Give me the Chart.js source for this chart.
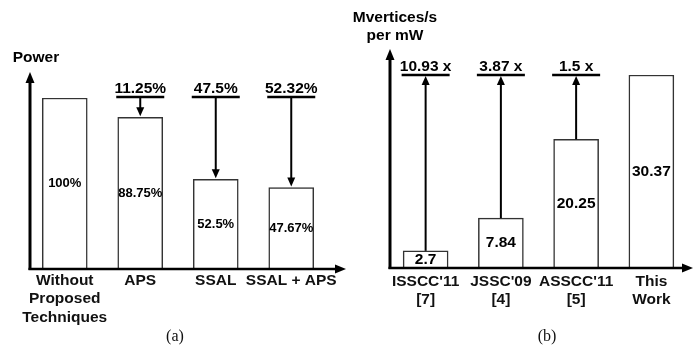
<!DOCTYPE html>
<html>
<head>
<meta charset="utf-8">
<script src="https://cdn.jsdelivr.net/npm/chart.js@4"></script>
<style>
  html, body { margin: 0; padding: 0; background: #fff; }
  #wrap { position: relative; width: 700px; height: 346px; }
  #wrap canvas { position: absolute; top: 0; }
</style>
</head>
<body>
<div id="wrap">
  <canvas id="powerChart" width="350" height="346" style="left:0"></canvas>
  <canvas id="effChart" width="350" height="346" style="left:350px"></canvas>
</div>
<script>
// (a) power, relative to the design without the techniques
const powerCategories = [['Without', 'Proposed', 'Techniques'], 'APS', 'SSAL', 'SSAL + APS'];
const powerValues = [100, 88.75, 52.5, 47.67];
const powerLabels = ['100%', '88.75%', '52.5%', '47.67%'];
const powerSavings = [null, '11.25%', '47.5%', '52.32%'];

// (b) energy efficiency, Mvertices/s per mW
const effCategories = [["ISSCC'11", '[7]'], ["JSSC'09", '[4]'], ["ASSCC'11", '[5]'], ['This', 'Work']];
const effValues = [2.7, 7.84, 20.25, 30.37];
const effLabels = ['2.7', '7.84', '20.25', '30.37'];
const effGains = ['10.93 x', '3.87 x', '1.5 x', null];

const SANS = '"Liberation Sans", Arial, Helvetica, sans-serif';
const SERIF = '"Liberation Serif", "Times New Roman", serif';

// small filled triangle, tip at (x, y)
function arrowHead(ctx, x, y, dir, w, h) {
    ctx.beginPath();
    ctx.moveTo(x, y);
    if (dir === 'up') {
        ctx.lineTo(x - w / 2, y + h);
        ctx.lineTo(x + w / 2, y + h);
    } else if (dir === 'down') {
        ctx.lineTo(x - w / 2, y - h);
        ctx.lineTo(x + w / 2, y - h);
    } else {
        ctx.lineTo(x - h, y - w / 2);
        ctx.lineTo(x - h, y + w / 2);
    }
    ctx.closePath();
    ctx.fill();
}

// axes with arrows, titles, value labels and the comparison arrows
function decorPlugin(opt) {
    return {
        id: 'decor',
        afterDraw(chart) {
            const ctx = chart.ctx;
            const area = chart.chartArea;
            const xs = chart.scales.x;
            const ys = chart.scales.y;
            const base = ys.getPixelForValue(0);
            const ax = area.left + opt.axisShift;

            ctx.save();
            ctx.fillStyle = '#000';
            ctx.strokeStyle = '#000';

            // y axis
            ctx.lineWidth = 3;
            ctx.beginPath();
            ctx.moveTo(ax, base + 1);
            ctx.lineTo(ax, opt.yTip + 8);
            ctx.stroke();
            arrowHead(ctx, ax, opt.yTip, 'up', 9, 11);

            // x axis
            ctx.lineWidth = 2.5;
            ctx.beginPath();
            ctx.moveTo(ax - 1.5, base);
            ctx.lineTo(opt.xTip - 8, base);
            ctx.stroke();
            arrowHead(ctx, opt.xTip, base, 'right', 9, 11);

            // axis title
            ctx.font = 'bold 15.5px ' + SANS;
            ctx.textAlign = 'center';
            ctx.textBaseline = 'middle';
            opt.title.forEach((t, i) => ctx.fillText(t, opt.titleX, opt.titleY + i * 18));

            // labels inside the bars
            ctx.font = 'bold ' + opt.valueFont + 'px ' + SANS;
            opt.values.forEach((v, i) => {
                const x = xs.getPixelForValue(i);
                const top = ys.getPixelForValue(v);
                ctx.fillText(opt.valueLabels[i], x, (top + base) / 2);
            });

            // comparison lines and arrows
            const refY = ys.getPixelForValue(opt.ref) + opt.refShift;
            opt.notes.forEach((txt, i) => {
                if (!txt) return;
                const x = xs.getPixelForValue(i);
                const top = ys.getPixelForValue(opt.values[i]);

                ctx.lineWidth = 2.5;
                ctx.beginPath();
                ctx.moveTo(x - 24, refY);
                ctx.lineTo(x + 24, refY);
                ctx.stroke();

                ctx.lineWidth = 2;
                ctx.beginPath();
                if (opt.down) {
                    ctx.moveTo(x, refY);
                    ctx.lineTo(x, top - 8);
                    ctx.stroke();
                    arrowHead(ctx, x, top - 1, 'down', 8, 9);
                } else {
                    ctx.moveTo(x, top);
                    ctx.lineTo(x, refY + 8);
                    ctx.stroke();
                    arrowHead(ctx, x, refY + 1, 'up', 8, 9);
                }

                ctx.font = 'bold 15.5px ' + SANS;
                ctx.textBaseline = 'alphabetic';
                ctx.fillText(txt, x, refY - 4);
                ctx.textBaseline = 'middle';
            });

            // panel caption
            ctx.font = '16px ' + SERIF;
            ctx.fillStyle = '#111';
            ctx.fillText(opt.caption, opt.captionX, 337);
            ctx.restore();
        }
    };
}

function makeChart(canvasId, labels, values, opt) {
    const ctx = document.getElementById(canvasId).getContext('2d');
    return new Chart(ctx, {
        type: 'bar',
        data: {
            labels: labels,
            datasets: [{
                data: values,
                backgroundColor: '#ffffff',
                borderColor: '#333333',
                borderWidth: 1.5,
                barThickness: 45
            }]
        },
        options: {
            responsive: false,
            animation: false,
            layout: { padding: opt.padding },
            plugins: {
                legend: { display: false },
                tooltip: { enabled: false }
            },
            scales: {
                x: {
                    grid: { display: false, drawTicks: false },
                    border: { display: false },
                    ticks: {
                        color: '#111',
                        padding: opt.tickPad,
                        autoSkip: false,
                        maxRotation: 0,
                        font: { family: SANS, size: 15.5, weight: 'bold', lineHeight: 1.2 }
                    },
                    afterFit: function(scale) {
                        scale.height = opt.xHeight;
                    }
                },
                y: {
                    display: false,
                    min: 0,
                    max: Math.max(...values)
                }
            }
        },
        plugins: [decorPlugin(Object.assign({ values: values }, opt))]
    });
}

makeChart('powerChart', powerCategories, powerValues, {
    padding: { top: 98, left: 27, right: 21, bottom: 0 },
    xHeight: 77,
    tickPad: 2,
    axisShift: 3,
    yTip: 72,
    xTip: 346,
    title: ['Power'],
    titleX: 36,
    titleY: 58,
    valueLabels: powerLabels,
    valueFont: 13,
    notes: powerSavings,
    ref: 100,
    refShift: -1,
    down: true,
    caption: '(a)',
    captionX: 175
});

makeChart('effChart', effCategories, effValues, {
    padding: { top: 75, left: 38, right: 11, bottom: 0 },
    xHeight: 78,
    tickPad: 4,
    axisShift: 2,
    yTip: 49,
    xTip: 343,
    title: ['Mvertices/s', 'per mW'],
    titleX: 45,
    titleY: 18,
    valueLabels: effLabels,
    valueFont: 15.5,
    notes: effGains,
    ref: Math.max(...effValues),
    refShift: 0,
    down: false,
    caption: '(b)',
    captionX: 197
});
</script>
</body>
</html>
